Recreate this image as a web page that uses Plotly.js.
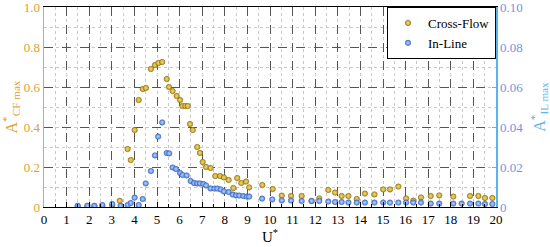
<!DOCTYPE html>
<html>
<head>
<meta charset="utf-8">
<script src="https://cdn.plot.ly/plotly-3.0.1.min.js"></script>
<style>html,body{margin:0;padding:0;background:#fff;}#chart{width:550px;height:247px;}</style>
</head>
<body>
<div id="chart"></div>
<script>
// Cross-Flow (left axis)
const cfU = [1.49,1.92,2.23,2.58,3.02,3.35,3.70,3.84,4.01,4.19,4.37,4.51,4.73,4.91,5.06,5.23,5.43,5.53,5.69,5.87,6.02,6.12,6.25,6.36,6.46,6.58,6.78,6.90,7.02,7.17,7.37,7.58,7.79,7.96,8.17,8.38,8.55,8.73,8.94,9.08,9.66,10.12,10.52,10.93,11.40,11.84,12.18,12.58,12.88,13.17,13.47,13.84,14.20,14.62,15.01,15.31,15.68,16.02,16.34,16.68,17.11,17.49,18.11,18.85,19.22,19.51,19.84];
const cfA = [0.004,0.004,0.004,0.005,0.008,0.031,0.29,0.235,0.385,0.535,0.59,0.595,0.69,0.71,0.72,0.725,0.64,0.60,0.58,0.555,0.535,0.505,0.505,0.505,0.415,0.385,0.30,0.27,0.225,0.20,0.195,0.155,0.155,0.148,0.135,0.095,0.145,0.12,0.127,0.098,0.11,0.09,0.057,0.055,0.055,0.03,0.043,0.085,0.072,0.055,0.055,0.04,0.067,0.063,0.088,0.088,0.102,0.043,0.032,0.048,0.055,0.058,0.052,0.055,0.055,0.045,0.045];
// In-Line (right axis)
const ilU = [1.49,1.92,2.23,2.58,3.02,3.39,3.70,3.84,4.01,4.19,4.37,4.50,4.73,4.91,5.05,5.23,5.43,5.54,5.69,5.84,6.02,6.13,6.31,6.49,6.64,6.78,6.90,7.05,7.17,7.37,7.54,7.67,7.82,7.96,8.17,8.35,8.50,8.64,8.82,8.97,9.08,9.65,10.10,10.52,10.93,11.40,11.84,12.18,12.58,12.88,13.17,13.47,13.84,14.20,14.62,15.01,15.31,15.68,16.02,16.34,16.68,17.11,17.49,18.11,18.48,18.85,19.22,19.51,19.84];
const ilA = [0.0006,0.0006,0.0006,0.001,0.0015,0.0006,0.001,0.002,0.0047,0.001,0.004,0.0118,0.018,0.0258,0.0352,0.0423,0.027,0.0268,0.0198,0.019,0.017,0.016,0.0158,0.013,0.012,0.0118,0.0118,0.0115,0.0108,0.0093,0.0092,0.0092,0.0088,0.0078,0.0075,0.0062,0.0058,0.0057,0.0055,0.0052,0.0052,0.0042,0.0038,0.0033,0.0032,0.003,0.003,0.003,0.0027,0.0025,0.0025,0.0022,0.0022,0.0022,0.0022,0.0022,0.0022,0.0022,0.0022,0.0022,0.0022,0.0017,0.0017,0.0017,0.0017,0.0017,0.0017,0.0015,0.0015];

const xTicks = [0,1,2,3,4,5,6,7,8,9,10,11,12,13,14,15,16,17,18,19,20];
const yTicks = [0,0.2,0.4,0.6,0.8,1.0];
const yTickText = ['0','0.2','0.4','0.6','0.8','1.0'];
const y2Ticks = [0,0.02,0.04,0.06,0.08,0.10];
const y2TickText = ['0','0.02','0.04','0.06','0.08','0.10'];

const FONT = 'Liberation Serif, DejaVu Serif, serif';
const gold = '#E0A030';

const traces = [
  {x: cfU, y: cfA, name: 'Cross-Flow', type: 'scatter', mode: 'markers', yaxis: 'y',
   marker: {size: 5.5, color: '#C29A1C', gradient: {type: 'radial', color: '#F2DC7A'}, line: {color: '#7A6010', width: 0.5}}},
  {x: ilU, y: ilA, name: 'In-Line', type: 'scatter', mode: 'markers', yaxis: 'y2',
   marker: {size: 5.5, color: '#4F7FE0', gradient: {type: 'radial', color: '#B8D8FF'}, line: {color: '#3A5AA8', width: 0.5}}}
];

const layout = {
  width: 550, height: 247,
  margin: {l: 44, r: 54, t: 7, b: 40},
  paper_bgcolor: '#fff', plot_bgcolor: '#fff',
  font: {family: FONT, size: 13, color: '#000'},
  showlegend: true,
  legend: {x: 1, xanchor: 'right', y: 1, yanchor: 'top', bgcolor: '#fff', bordercolor: '#000', borderwidth: 1,
           font: {family: FONT, size: 13}, tracegroupgap: 0},
  xaxis: {range: [0, 20], tickvals: xTicks, ticks: 'inside', ticklen: 5, tickcolor: '#000',
          showline: true, linecolor: '#000', linewidth: 1, mirror: true, ticklabeloverflow: 'allow',
          showgrid: true, gridcolor: '#555', griddash: 'dash', gridwidth: 1, zeroline: false,
          minor: {dtick: 0.5, showgrid: true, gridcolor: '#c8c8c8', griddash: 'dot', ticks: 'inside', ticklen: 3, tickcolor: '#000'},
          title: {text: 'U<sup>*</sup>', font: {family: FONT, size: 15}, standoff: 4},
          tickfont: {family: FONT, size: 13}},
  yaxis: {range: [0, 1], tickvals: yTicks, ticktext: yTickText, ticks: 'inside', ticklen: 4, tickcolor: '#555',
          showline: true, linecolor: '#D8B040', linewidth: 1.5, ticklabeloverflow: 'allow',
          showgrid: true, gridcolor: '#555', griddash: 'dash', gridwidth: 1, zeroline: false,
          minor: {dtick: 0.1, showgrid: true, gridcolor: '#c8c8c8', griddash: 'dot'},
          tickfont: {family: FONT, size: 13, color: gold},
          title: {text: 'A<sup>*</sup><sub>CF max</sub>', font: {family: FONT, size: 16, color: gold}, standoff: 3}},
  yaxis2: {range: [0, 0.1], overlaying: 'y', side: 'right', tickvals: y2Ticks, ticktext: y2TickText,
           ticks: 'inside', ticklen: 4, tickcolor: '#5AB4F0', ticklabeloverflow: 'allow',
           showline: true, linecolor: '#5AB4F0', linewidth: 1.5, showgrid: false, zeroline: false,
           tickfont: {family: FONT, size: 13, color: '#7B8FE0'},
           title: {text: 'A<sup>*</sup><sub>IL max</sub>', font: {family: FONT, size: 16, color: '#5AB4F0'}, standoff: 12}}
};

Plotly.newPlot('chart', traces, layout, {displayModeBar: false, staticPlot: true});
</script>
</body>
</html>
